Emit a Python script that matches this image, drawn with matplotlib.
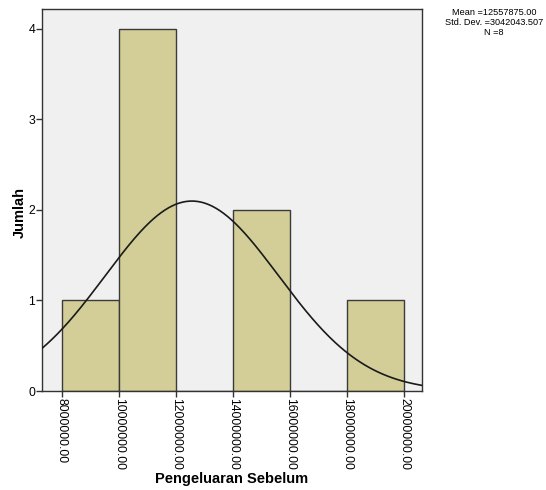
import numpy as np
import matplotlib
matplotlib.use("Agg")
import matplotlib.pyplot as plt

bin_edges = [8000000, 10000000, 12000000, 14000000, 16000000, 18000000, 20000000]
counts = [1, 4, 0, 2, 0, 1]
mean = 12557875.00
std = 3042043.507
n = 8
xticks = [8000000, 10000000, 12000000, 14000000, 16000000, 18000000, 20000000]
yticks = [0, 1, 2, 3, 4]

plt.rcParams['font.family'] = ['Liberation Sans', 'DejaVu Sans']

fig = plt.figure(figsize=(5.46, 4.90), dpi=100)
ax = fig.add_axes([42/546, 1-391/490, (422-42)/546, (391-9)/490])
ax.set_facecolor('#F0F0F0')

widths = np.diff(bin_edges)
ax.bar(bin_edges[:-1], counts, width=widths, align='edge', color='#D3CE97',
       edgecolor='#3a3a3a', linewidth=1.0, zorder=2)

xlim = (7300000, 20630000)
xs = np.linspace(xlim[0], xlim[1], 400)
bw = bin_edges[1] - bin_edges[0]
ys = n * bw / (std * np.sqrt(2 * np.pi)) * np.exp(-0.5 * ((xs - mean) / std) ** 2)
ax.plot(xs, ys, color='#1a1a1a', linewidth=1.2, zorder=3)

ax.set_xlim(*xlim)
ax.set_ylim(0, 4.22)
ax.set_xticks(xticks)
ax.set_xticklabels([f"{v:.2f}" for v in xticks], rotation=270, fontsize=8.8)
ax.set_yticks(yticks)
ax.set_yticklabels([str(v) for v in yticks], fontsize=8.8)
ax.tick_params(axis='both', direction='out', length=4, width=1, color='#333333', pad=1)
for s in ax.spines.values():
    s.set_color('#333333')
    s.set_linewidth(1.0)

fig.text(20/546, 1-213/490, 'Jumlah', fontsize=10.5, fontweight='bold',
         rotation=90, ha='center', va='center')
fig.text(232/546, 1-479/490, 'Pengeluaran Sebelum', fontsize=10.5,
         fontweight='bold', ha='center', va='center')

fig.text(494/546, 1-8/490,
         f"Mean ={mean:.2f}\nStd. Dev. ={std:.3f}\nN ={n}",
         ha='center', va='top', fontsize=6.6, linespacing=1.15)

fig.savefig('out.png', dpi=100)
